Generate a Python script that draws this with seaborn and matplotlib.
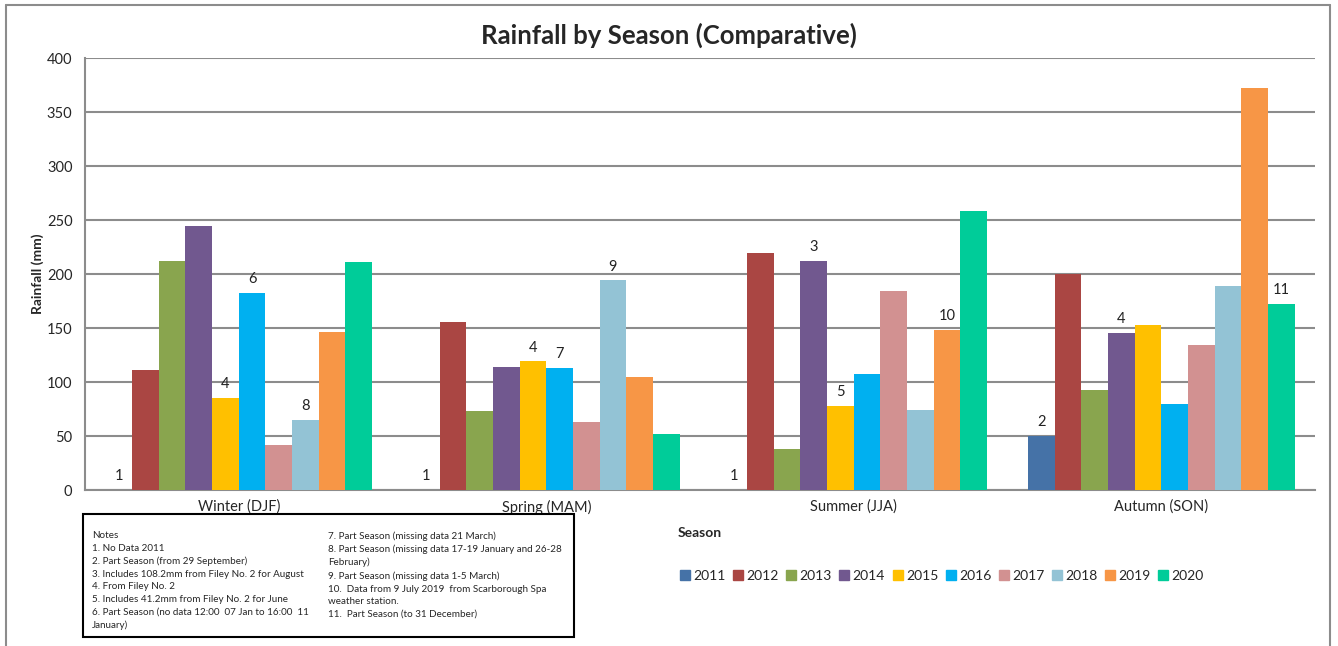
import matplotlib
matplotlib.use("Agg")
import matplotlib.pyplot as plt
import seaborn as sns
import pandas as pd
from matplotlib.lines import Line2D
from matplotlib.patches import Rectangle

seasons = ["Winter (DJF)", "Spring (MAM)", "Summer (JJA)", "Autumn (SON)"]
years = ["2011", "2012", "2013", "2014", "2015", "2016", "2017", "2018", "2019", "2020"]

r2011 = [0, 0, 0, 50]
r2012 = [111, 156, 219, 200]
r2013 = [212, 73, 38, 93]
r2014 = [244, 114, 212, 145]
r2015 = [85, 119, 78, 153]
r2016 = [182, 113, 107, 80]
r2017 = [42, 63, 184, 134]
r2018 = [65, 194, 74, 189]
r2019 = [146, 105, 148, 372]
r2020 = [211, 52, 258, 172]

colors = ["#4572A7", "#AA4643", "#89A54E", "#71588F", "#FFC000",
          "#00B0F0", "#D29191", "#93C3D5", "#F79646", "#00CC99"]

# note markers: (season index, year, label)
note_marks = [
    (0, "2011", "1"), (0, "2015", "4"), (0, "2016", "6"), (0, "2018", "8"),
    (1, "2011", "1"), (1, "2015", "4"), (1, "2016", "7"), (1, "2018", "9"),
    (2, "2011", "1"), (2, "2014", "3"), (2, "2015", "5"), (2, "2019", "10"),
    (3, "2011", "2"), (3, "2014", "4"), (3, "2020", "11"),
]

notes_left = ("Notes\n1. No Data 2011\n2. Part Season (from 29 September)\n"
              "3. Includes 108.2mm from Filey No. 2 for August\n4. From Filey No. 2\n"
              "5. Includes 41.2mm from Filey No. 2 for June\n"
              "6. Part Season (no data 12:00  07 Jan to 16:00  11\nJanuary)")
notes_right = ("7. Part Season (missing data 21 March)\n"
               "8. Part Season (missing data 17-19 January and 26-28\nFebruary)\n"
               "9. Part Season (missing data 1-5 March)\n"
               "10.  Data from 9 July 2019  from Scarborough Spa\nweather station.\n"
               "11.  Part Season (to 31 December)")

series = [r2011, r2012, r2013, r2014, r2015, r2016, r2017, r2018, r2019, r2020]
rows = []
for y, vals in zip(years, series):
    for s, v in zip(seasons, vals):
        rows.append({"Season": s, "Year": y, "Rainfall": v})
df = pd.DataFrame(rows)

sns.set_style("white")
plt.rcParams["font.family"] = ["Lato", "DejaVu Sans"]

W, H = 1338, 646
fig = plt.figure(figsize=(W / 100, H / 100), dpi=100)
ax = fig.add_axes([85 / W, 1 - 490 / H, (1315 - 85) / W, (490 - 58) / H])

sns.barplot(data=df, x="Season", y="Rainfall", hue="Year", order=seasons,
            hue_order=years, palette=colors, width=0.867, linewidth=0,
            saturation=1, errorbar=None, ax=ax, legend=False, zorder=3)

ax.set_ylim(0, 400)
ax.set_xlim(-0.5, 3.5)
ax.set_yticks(range(0, 401, 50))
ax.yaxis.grid(True, color="#8C8C8C", linewidth=1.5, zorder=0)
ax.set_axisbelow(True)
for side in ["top", "right"]:
    ax.spines[side].set_visible(False)
for side in ["left", "bottom"]:
    ax.spines[side].set_color("#8C8C8C")
    ax.spines[side].set_linewidth(1.5)
ax.tick_params(axis="y", length=5, color="#8C8C8C", width=1.2, labelsize=10.5, pad=4)
ax.set_xticks([i - 0.5 for i in range(5)], minor=True)
ax.tick_params(axis="x", which="minor", length=5, color="#8C8C8C", width=1.2, direction="out")
ax.tick_params(axis="x", which="major", length=0, labelsize=10.5, pad=7)
ax.set_xlabel("Season", fontsize=10, fontweight="bold", labelpad=9)
ax.set_ylabel("Rainfall (mm)", fontsize=10, fontweight="bold", labelpad=2)

# note labels above bars
for si, yr, lab in note_marks:
    bar = ax.containers[years.index(yr)][si]
    xc = bar.get_x() + bar.get_width() / 2
    ax.annotate(lab, (xc, bar.get_height()), xytext=(0, 5), textcoords="offset points",
                ha="center", va="bottom", fontsize=10.5, color="#222222")

fig.text(0.5, 1 - 35 / H, "Rainfall by Season (Comparative)", ha="center", va="center",
         fontsize=18.5, fontweight="bold")

handles = [Line2D([], [], marker="s", linestyle="none", markersize=7,
                  markerfacecolor=c, markeredgecolor=c) for c in colors]
fig.legend(handles, years, loc="center", bbox_to_anchor=(942 / W, 1 - 576 / H),
           ncol=10, frameon=False, fontsize=10, handlelength=0.7, handletextpad=0.25,
           columnspacing=0.55)

# notes box
fig.patches.append(Rectangle((83 / W, 1 - 637 / H), (574 - 83) / W, (637 - 514) / H,
                             transform=fig.transFigure, fill=False, edgecolor="black",
                             linewidth=1.5))
fig.text(92 / W, 1 - 531 / H, notes_left, ha="left", va="top", fontsize=7.1, linespacing=1.52)
fig.text(328 / W, 1 - 531 / H, notes_right, ha="left", va="top", fontsize=7.1, linespacing=1.52)

# outer chart border (left, top, right)
for (x0, y0, x1, y1) in [(6, 5, 6, 646), (6, 5, 1330, 5), (1330, 5, 1330, 646)]:
    fig.add_artist(Line2D([x0 / W, x1 / W], [1 - y0 / H, 1 - y1 / H], transform=fig.transFigure,
                          color="#8C8C8C", linewidth=1.5))

fig.savefig("out.png", dpi=100)
